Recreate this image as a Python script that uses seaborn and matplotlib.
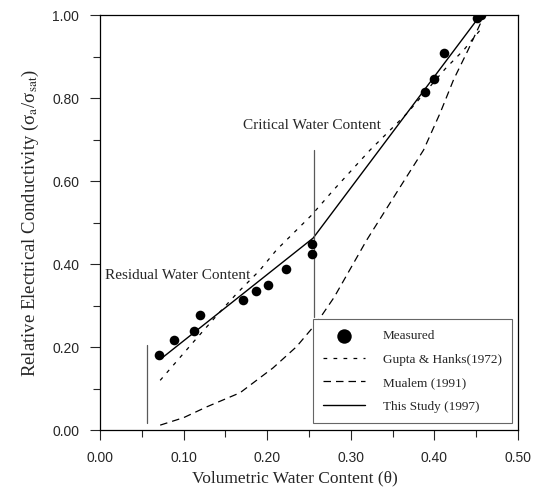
import matplotlib
matplotlib.use("Agg")
import matplotlib.pyplot as plt
from matplotlib.ticker import MultipleLocator, FormatStrFormatter
import seaborn as sns
import pandas as pd

# Measured data
meas_x = [0.071, 0.088, 0.112, 0.120, 0.171, 0.187, 0.201, 0.2225, 0.254, 0.254,
          0.389, 0.399, 0.411, 0.451, 0.456]
meas_y = [0.180, 0.218, 0.238, 0.278, 0.313, 0.335, 0.350, 0.389, 0.425, 0.448,
          0.816, 0.846, 0.909, 0.993, 1.000]

# Gupta & Hanks (1972)
gupta_x = [0.072, 0.112, 0.1435, 0.1635, 0.191, 0.211, 0.253, 0.279, 0.323, 0.367, 0.413, 0.435, 0.455]
gupta_y = [0.120, 0.213, 0.285, 0.329, 0.385, 0.434, 0.518, 0.578, 0.675, 0.763, 0.871, 0.916, 0.965]

# Mualem (1991)
mualem_x = [0.072, 0.100, 0.1276, 0.1675, 0.207, 0.235, 0.259, 0.280, 0.319, 0.359, 0.387, 0.407, 0.423, 0.440, 0.455]
mualem_y = [0.012, 0.030, 0.056, 0.090, 0.150, 0.201, 0.258, 0.320, 0.458, 0.586, 0.675, 0.765, 0.845, 0.915, 0.980]

# This Study (1997)
study_x = [0.073, 0.255, 0.455]
study_y = [0.172, 0.463, 1.000]

residual_x = 0.0565
critical_x = 0.256

sns.set_style("ticks")
plt.rcParams["font.family"] = ["Liberation Serif", "DejaVu Serif"]
plt.rcParams["mathtext.fontset"] = "stix"

fig = plt.figure(figsize=(5.33, 4.91), dpi=100)
ax = fig.add_axes([0.1876, 0.124, 0.7843, 0.845])

df_meas = pd.DataFrame({"x": meas_x, "y": meas_y})
sns.scatterplot(data=df_meas, x="x", y="y", ax=ax, color="black", s=48,
                edgecolor="black", linewidth=0, label="Measured", zorder=5)
sns.lineplot(x=gupta_x, y=gupta_y, ax=ax, color="black", lw=0.9,
             linestyle=(0, (3, 5)), label="Gupta & Hanks(1972)", sort=False)
sns.lineplot(x=mualem_x, y=mualem_y, ax=ax, color="black", lw=0.9,
             linestyle=(0, (6, 4)), label="Mualem (1991)", sort=False)
sns.lineplot(x=study_x, y=study_y, ax=ax, color="black", lw=1.0,
             label="This Study (1997)", sort=False)

ax.plot([residual_x, residual_x], [0.016, 0.205], color="0.35", lw=0.9)
ax.plot([critical_x, critical_x], [0.273, 0.675], color="0.35", lw=0.9)

ax.text(0.006, 0.373, "Residual Water Content", fontsize=11, va="center", ha="left")
ax.text(0.171, 0.735, "Critical Water Content", fontsize=11, va="center", ha="left")

ax.set_xlim(0, 0.5)
ax.set_ylim(0, 1.0)
ax.xaxis.set_major_locator(MultipleLocator(0.1))
ax.xaxis.set_minor_locator(MultipleLocator(0.05))
ax.yaxis.set_major_locator(MultipleLocator(0.2))
ax.yaxis.set_minor_locator(MultipleLocator(0.1))
ax.xaxis.set_major_formatter(FormatStrFormatter("%.2f"))
ax.yaxis.set_major_formatter(FormatStrFormatter("%.2f"))
ax.tick_params(which="major", direction="out", length=7, width=0.8, labelsize=10, pad=8)
ax.tick_params(which="minor", direction="out", length=5, width=0.8)
for lab in ax.get_xticklabels() + ax.get_yticklabels():
    lab.set_fontfamily("Liberation Sans")

for sp in ax.spines.values():
    sp.set_visible(True)
    sp.set_linewidth(0.9)
    sp.set_color("black")

ax.set_xlabel("Volumetric Water Content (θ)", fontsize=12.5, labelpad=4)
ax.xaxis.set_label_coords(0.467, -0.098)
ax.set_ylabel("Relative Electrical Conductivity (σ$_\\mathrm{a}$/σ$_\\mathrm{sat}$)",
              fontsize=13.5, labelpad=8)

leg = ax.legend(loc="lower right", bbox_to_anchor=(0.986, 0.017), borderaxespad=0,
                fontsize=9.5, frameon=True, fancybox=False, edgecolor="0.4", framealpha=1,
                handlelength=3.2, labelspacing=0.85, borderpad=0.8, handletextpad=1.3,
                markerscale=1.5)
leg.get_frame().set_linewidth(0.8)

fig.savefig("out.png", dpi=100)
